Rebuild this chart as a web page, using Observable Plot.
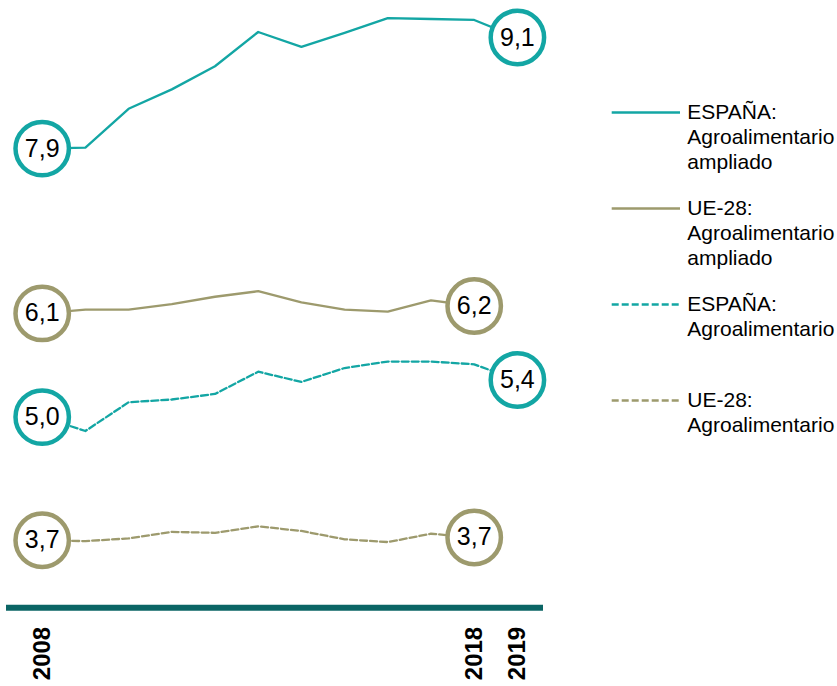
<!DOCTYPE html>
<html>
<head>
<meta charset="utf-8">
<script src="https://cdn.jsdelivr.net/npm/d3@7"></script>
<script src="https://cdn.jsdelivr.net/npm/@observablehq/plot@0.6"></script>
<style>
  html, body { margin: 0; padding: 0; background: #fff; }
  #wrap { display: flex; width: 837px; height: 686px; font-family: Arial, "Liberation Sans", sans-serif; }
  #chart { width: 600px; flex: none; }
  #legend { width: 237px; flex: none; padding-top: 98.8px; box-sizing: border-box; }
  .item { height: 96.2px; display: flex; align-items: flex-start; }
  .item svg { flex: none; display: block; margin-top: 1px; }
  .item .lbl { font-size: 21px; line-height: 25px; margin-left: 7.3px; white-space: nowrap; color: #000; }
</style>
</head>
<body>
<div id="wrap"><div id="chart"></div><div id="legend"></div></div>
<script>
// ---- data ----
const years = [2008, 2009, 2010, 2011, 2012, 2013, 2014, 2015, 2016, 2017, 2018, 2019];
const tickYears = [2008, 2018, 2019];

const espAmpliado = [7.9, 7.91, 8.33, 8.54, 8.79, 9.16, 9.0, 9.15, 9.31, 9.3, 9.29, 9.1];
const ueAmpliado  = [6.12, 6.16, 6.16, 6.22, 6.30, 6.36, 6.24, 6.16, 6.14, 6.26, 6.2];
const espAgro     = [5.0, 4.85, 5.16, 5.19, 5.25, 5.49, 5.38, 5.53, 5.60, 5.60, 5.57, 5.4];
const ueAgro      = [3.67, 3.66, 3.69, 3.76, 3.75, 3.82, 3.77, 3.68, 3.65, 3.74, 3.7];

const seriesNames = [
  ["ESPAÑA:", "Agroalimentario", "ampliado"],
  ["UE-28:", "Agroalimentario", "ampliado"],
  ["ESPAÑA:", "Agroalimentario"],
  ["UE-28:", "Agroalimentario"]
];
const seriesValues = [espAmpliado, ueAmpliado, espAgro, ueAgro];
const seriesColors = ["#13a6a4", "#9d9a6d", "#13a6a4", "#9d9a6d"];
const seriesDash = [null, null, "7,3", "7,3"];

const axisColor = "#0b6565";
const yDomain = [2.94, 9.5];

// ---- build tables ----
const series = seriesValues.map((vals, i) => ({
  name: seriesNames[i].join(" "),
  color: seriesColors[i],
  dash: seriesDash[i],
  rows: vals.map((v, j) => ({year: years[j], value: v}))
}));

const fmt = v => d3.format(".1f")(v).replace(".", ",");

const marks = [
  Plot.ruleY([yDomain[0]], {stroke: axisColor, strokeWidth: 6, insetLeft: -35.7, insetRight: -26.1}),
  Plot.axisX(tickYears, {
    tickSize: 0, tickPadding: 19, tickRotate: -90,
    fontSize: 24, fontWeight: "bold", fill: "#000",
    tickFormat: d => String(d), label: null
  })
];

series.forEach(s => {
  marks.push(Plot.line(s.rows, {
    x: "year", y: "value", stroke: s.color, strokeWidth: 2.3,
    strokeDasharray: s.dash || undefined, curve: "linear"
  }));
});
series.forEach(s => {
  const ends = [s.rows[0], s.rows[s.rows.length - 1]];
  marks.push(Plot.dot(ends, {x: "year", y: "value", r: 26.7, fill: "white", stroke: s.color, strokeWidth: 4.5}));
  marks.push(Plot.text(ends, {x: "year", y: "value", text: d => fmt(d.value), fontSize: 25, fill: "#000"}));
});

const chart = Plot.plot({
  width: 600,
  height: 686,
  marginLeft: 41.7,
  marginRight: 83.1,
  marginTop: 0,
  marginBottom: 78.7,
  x: {domain: [years[0], years[years.length - 1]], axis: null},
  y: {domain: yDomain, axis: null},
  style: {fontFamily: 'Arial, "Liberation Sans", sans-serif', background: "white", overflow: "visible"},
  marks
});
document.getElementById("chart").appendChild(chart);

// ---- legend ----
const legend = document.getElementById("legend");
series.forEach((s, i) => {
  const item = document.createElement("div");
  item.className = "item";
  const ns = "http://www.w3.org/2000/svg";
  const sw = document.createElementNS(ns, "svg");
  sw.setAttribute("width", 80);
  sw.setAttribute("height", 25);
  const ln = document.createElementNS(ns, "line");
  ln.setAttribute("x1", 11.7); ln.setAttribute("x2", 80);
  ln.setAttribute("y1", 12.5); ln.setAttribute("y2", 12.5);
  ln.setAttribute("stroke", s.color);
  ln.setAttribute("stroke-width", 2.3);
  if (s.dash) ln.setAttribute("stroke-dasharray", s.dash);
  sw.appendChild(ln);
  item.appendChild(sw);
  const lbl = document.createElement("div");
  lbl.className = "lbl";
  lbl.innerHTML = seriesNames[i].join("<br>");
  item.appendChild(lbl);
  legend.appendChild(item);
});
</script>
</body>
</html>
